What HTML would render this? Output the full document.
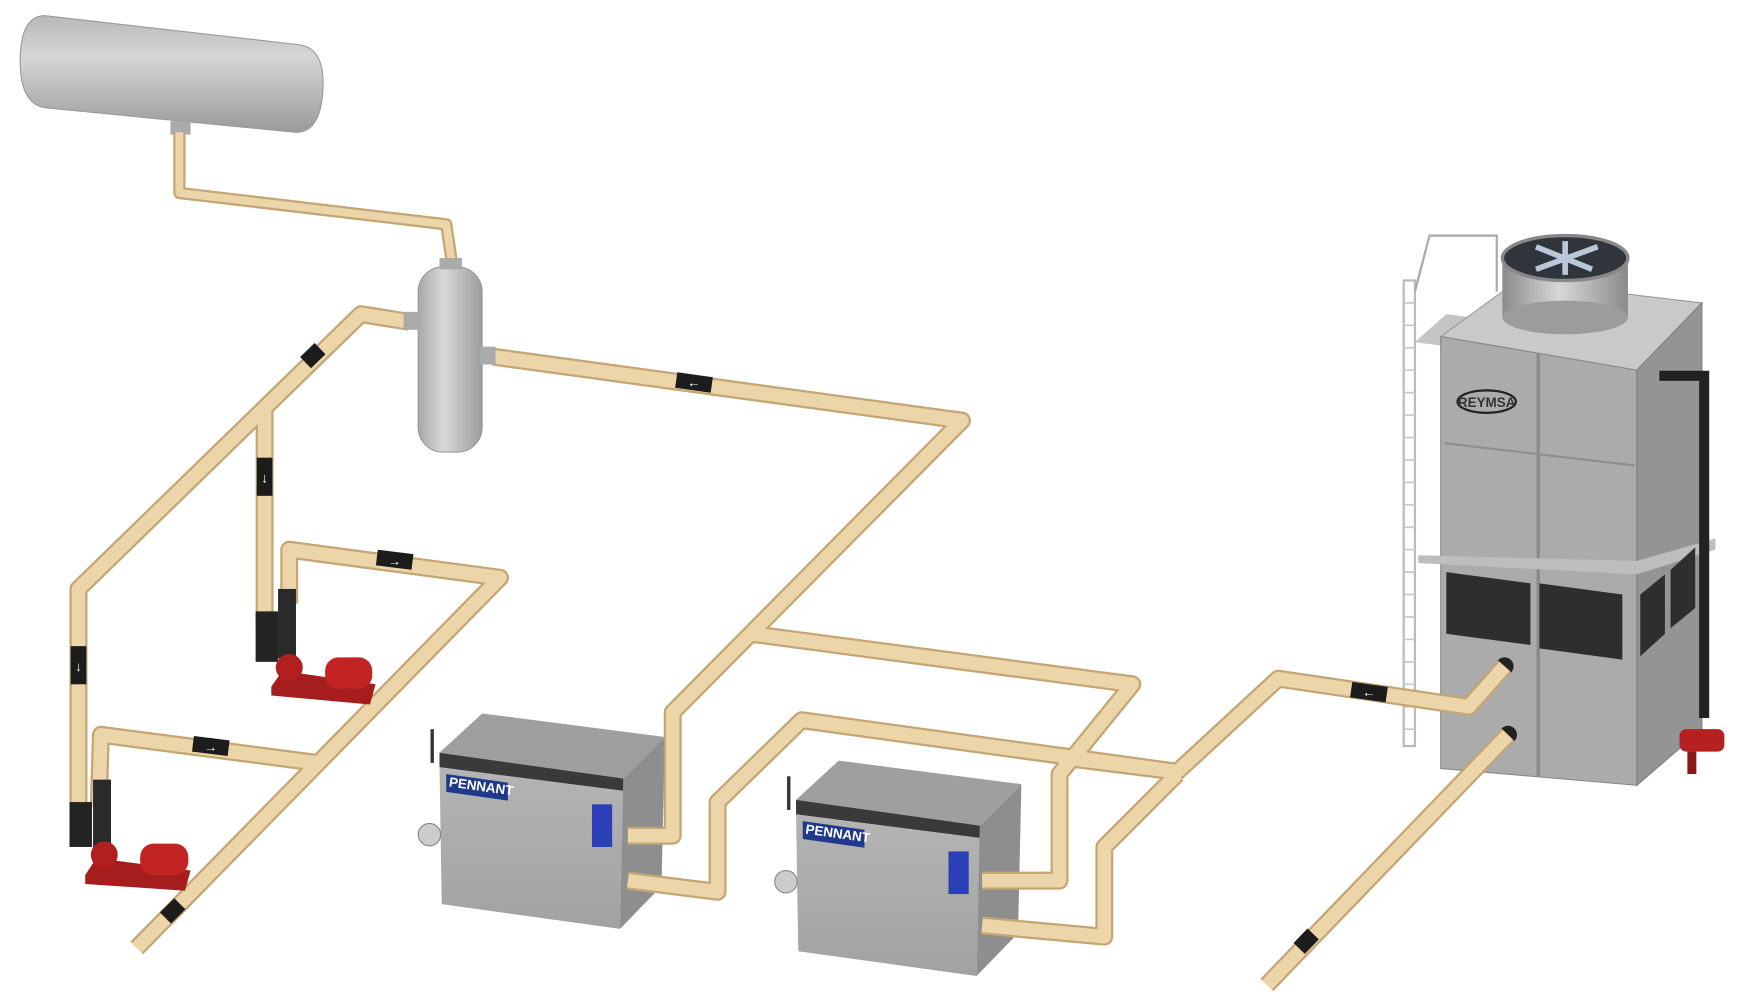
<!DOCTYPE html>
<html><head><meta charset="utf-8"><style>
html,body{margin:0;padding:0;background:#fff;}
svg{display:block;}
.po{fill:none;stroke:#c4a674;stroke-width:16;stroke-linejoin:round;stroke-linecap:butt;}
.pi{fill:none;stroke:#ecd5a8;stroke-width:12;stroke-linejoin:round;stroke-linecap:butt;}
.pt{fill:none;stroke:#c4a674;stroke-width:11;stroke-linejoin:round;}
.pti{fill:none;stroke:#ecd5a8;stroke-width:7;stroke-linejoin:round;}
</style></head><body>
<svg width="1758" height="1004" viewBox="0 0 1568 895" preserveAspectRatio="none" xmlns="http://www.w3.org/2000/svg">
<defs>
<linearGradient id="tank" x1="0" y1="0" x2="0" y2="1"><stop offset="0" stop-color="#b8b8b8"/><stop offset=".35" stop-color="#d6d6d6"/><stop offset="1" stop-color="#9a9a9a"/></linearGradient>
<linearGradient id="sep" x1="0" y1="0" x2="1" y2="0"><stop offset="0" stop-color="#a8a8a8"/><stop offset=".4" stop-color="#d8d8d8"/><stop offset="1" stop-color="#9c9c9c"/></linearGradient>
<linearGradient id="box" x1="0" y1="0" x2="0" y2="1"><stop offset="0" stop-color="#b4b4b4"/><stop offset="1" stop-color="#a2a2a2"/></linearGradient>
<linearGradient id="fan" x1="0" y1="0" x2="1" y2="0"><stop offset="0" stop-color="#8a8a8a"/><stop offset=".45" stop-color="#d8d8d8"/><stop offset="1" stop-color="#8a8a8a"/></linearGradient>
<path id="pA" d="M160,118 L160,172 L398,200 L404,240"/>
<path id="pB" d="M365,287 L322,280 L70,525 L70,720"/>
<path id="pC" d="M236,365 L236,560"/>
<path id="pD" d="M258,538 L258,490 L446,515 L122,845"/>
<path id="pE" d="M88,720 L90,655 L282,680"/>
<path id="pF" d="M440,318 L858,375 L600,635 L600,745 L560,745"/>
<path id="pG" d="M670,565 L1010,610 L945,690 L945,785 L876,785"/>
<path id="pH" d="M560,785 L640,795 L640,715 L715,642 L1050,688 L1140,605 L1310,630 L1342,594"/>
<path id="pI" d="M876,825 L985,835 L985,755 L1050,690"/>
<path id="pJ" d="M945,675 L1050,688"/>
<path id="pK" d="M1345,655 L1130,878"/>
</defs>

<!-- tank -->
<path d="M40,14 L268,40 Q290,44 288,80 Q286,118 264,118 L40,96 Q18,92 18,55 Q18,14 40,14 Z" fill="url(#tank)" stroke="#9a9a9a"/>
<rect x="152" y="108" width="18" height="12" fill="#aaa"/>

<!-- cooling tower -->
<g>
<rect x="1252" y="250" width="10" height="415" fill="none" stroke="#bbb" stroke-width="2"/>
<g stroke="#c8c8c8" stroke-width="1.5">
<path d="M1252,270H1262M1252,290H1262M1252,310H1262M1252,330H1262M1252,350H1262M1252,370H1262M1252,390H1262M1252,410H1262M1252,430H1262M1252,450H1262M1252,470H1262M1252,490H1262M1252,510H1262M1252,530H1262M1252,550H1262M1252,570H1262M1252,590H1262M1252,610H1262M1252,630H1262M1252,650H1262"/>
</g>
<polyline points="1262,260 1275,210 1335,210 1335,260" fill="none" stroke="#aaa" stroke-width="2"/>
<polygon points="1262,305 1290,280 1330,285 1300,310" fill="#c4c4c4"/>
<polygon points="1285,300 1340,260 1450,262 1518,270 1460,330" fill="#c9c9c9" stroke="#999"/>
<polygon points="1285,300 1460,330 1460,700 1285,685" fill="#ababab" stroke="#8a8a8a"/>
<polygon points="1460,330 1518,270 1518,650 1460,700" fill="#949494" stroke="#808080"/>
<line x1="1372" y1="315" x2="1372" y2="692" stroke="#8a8a8a" stroke-width="3"/>
<line x1="1288" y1="395" x2="1458" y2="415" stroke="#8f8f8f" stroke-width="2"/>
<polygon points="1265,495 1460,500 1530,480 1530,490 1460,512 1265,502" fill="#bdbdbd"/>
<polygon points="1290,510 1365,520 1365,575 1290,565" fill="#2e2e2e"/>
<polygon points="1373,520 1447,530 1447,588 1373,578" fill="#2e2e2e"/>
<polygon points="1463,530 1485,512 1485,565 1463,585" fill="#2e2e2e"/>
<polygon points="1490,508 1512,488 1512,542 1490,560" fill="#2e2e2e"/>
<rect x="1340" y="228" width="112" height="55" fill="url(#fan)"/>
<ellipse cx="1396" cy="283" rx="56" ry="15" fill="#9c9c9c"/>
<ellipse cx="1396" cy="230" rx="56" ry="20" fill="#2f353a" stroke="#888" stroke-width="3"/>
<path d="M1370,220 L1420,240 M1396,215 L1396,245 M1370,240 L1425,220" stroke="#b8c8d8" stroke-width="5"/>
<ellipse cx="1326" cy="358" rx="26" ry="10" fill="none" stroke="#222" stroke-width="2"/>
<text x="1326" y="363" font-family="Liberation Sans, sans-serif" font-size="12" font-weight="bold" fill="#333" text-anchor="middle">REYMSA</text>
<polyline points="1480,335 1520,335 1520,640" fill="none" stroke="#222" stroke-width="9"/>
<rect x="1498" y="650" width="40" height="20" rx="6" fill="#b52020"/>
<rect x="1505" y="670" width="8" height="20" fill="#8a1a1a"/>
<circle cx="1342" cy="594" r="8" fill="#222"/>
<circle cx="1345" cy="655" r="8" fill="#222"/>
</g>

<!-- boilers -->
<g id="b1">
<polygon points="392,671 430,636 593,657 556,694" fill="#9f9f9f"/>
<polygon points="392,671 556,694 556,705 392,684" fill="#3a3a3a"/>
<polygon points="392,684 556,705 553,828 394,806" fill="url(#box)"/>
<polygon points="556,694 593,657 590,790 553,828" fill="#8e8e8e"/>
<rect x="398" y="690" width="55" height="16" fill="#1f3a8a" transform="skewY(8) translate(0,-56)"/>
<text x="400" y="701" font-family="Liberation Sans, sans-serif" font-size="12" font-weight="bold" fill="#fff" transform="rotate(8 400 701)">PENNANT</text>
<rect x="528" y="717" width="18" height="38" fill="#2a3fb8"/>
<circle cx="383" cy="744" r="10" fill="#ccc" stroke="#888"/>
<rect x="384" y="650" width="3" height="30" fill="#333"/>
</g>
<use href="#b1" transform="translate(318,42)"/>

<!-- pipes -->
<g class="po"><use href="#pB"/><use href="#pC"/><use href="#pD"/><use href="#pE"/><use href="#pF"/><use href="#pG"/><use href="#pH"/><use href="#pI"/><use href="#pJ"/><use href="#pK"/></g>
<g class="pi"><use href="#pB"/><use href="#pC"/><use href="#pD"/><use href="#pE"/><use href="#pF"/><use href="#pG"/><use href="#pH"/><use href="#pI"/><use href="#pJ"/><use href="#pK"/></g>
<g class="pt"><use href="#pA"/></g><g class="pti"><use href="#pA"/></g>

<!-- separator -->
<rect x="373" y="238" width="57" height="165" rx="22" fill="url(#sep)" stroke="#999"/>
<rect x="392" y="230" width="20" height="10" fill="#aaa"/>
<rect x="360" y="278" width="14" height="16" fill="#aaa"/>
<rect x="428" y="309" width="14" height="16" fill="#aaa"/>

<!-- arrows -->
<g fill="#1c1c1c">
<rect x="603" y="334" width="32" height="14" transform="rotate(8 619 341)"/>
<rect x="270" y="310" width="18" height="14" transform="rotate(-44 279 317)"/>
<rect x="229" y="408" width="14" height="34"/>
<rect x="63" y="576" width="14" height="34"/>
<rect x="336" y="492" width="32" height="14" transform="rotate(7 352 499)"/>
<rect x="172" y="658" width="32" height="14" transform="rotate(7 188 665)"/>
<rect x="1205" y="610" width="32" height="14" transform="rotate(8 1221 617)"/>
<rect x="145" y="805" width="18" height="14" transform="rotate(-45 154 812)"/>
<rect x="1156" y="832" width="18" height="14" transform="rotate(-46 1165 839)"/>
</g>
<g fill="#fff" font-family="Liberation Sans, sans-serif" font-size="12" font-weight="bold" text-anchor="middle">
<text x="619" y="345">←</text><text x="352" y="504">→</text><text x="188" y="670">→</text><text x="1221" y="621">←</text>
<text x="236" y="430">↓</text><text x="70" y="598">↓</text>
</g>

<!-- pumps -->
<g>
<rect x="228" y="545" width="20" height="45" fill="#232323"/>
<rect x="248" y="525" width="16" height="62" fill="#2a2a2a"/>
<polygon points="242,612 252,598 335,610 330,628 242,620" fill="#a51d1d"/>
<rect x="290" y="586" width="42" height="28" rx="12" fill="#c22424"/>
<circle cx="258" cy="595" r="12" fill="#b11f1f"/>
<rect x="62" y="715" width="20" height="40" fill="#232323"/>
<rect x="83" y="695" width="16" height="60" fill="#2a2a2a"/>
<polygon points="76,780 86,765 170,776 165,794 76,788" fill="#a51d1d"/>
<rect x="125" y="752" width="43" height="28" rx="12" fill="#c22424"/>
<circle cx="93" cy="762" r="12" fill="#b11f1f"/>
</g>
</svg>
</body></html>
